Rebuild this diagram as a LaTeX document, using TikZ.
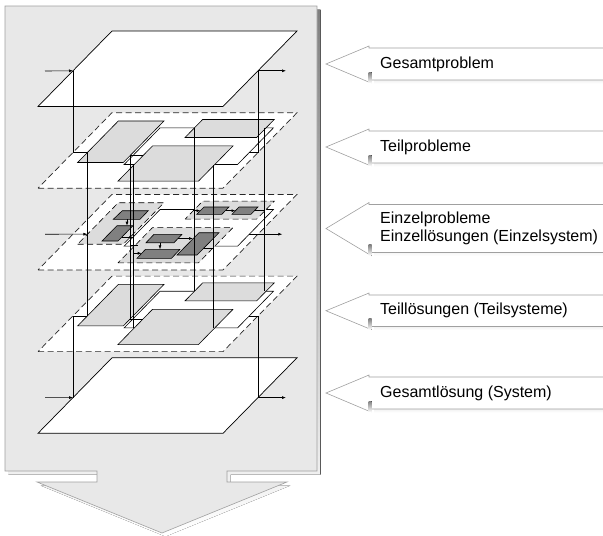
\documentclass[tikz,border=0pt]{standalone}
\usepackage{fontspec}
\setmainfont{Liberation Sans}
\usetikzlibrary{arrows.meta}
\definecolor{panel}{HTML}{E8E8E8}
\definecolor{shade}{HTML}{808080}
\definecolor{rim}{HTML}{A0A0A0}
\definecolor{subfill}{HTML}{DCDCDC}
\definecolor{elemfill}{HTML}{808080}

% parallelogram in level coordinates (u along width, v in depth)
\newcommand{\pgram}[4]{(#1,#2) -- (#3,#2) -- (#3,#4) -- (#1,#4) -- cycle}
% outline of the big downward arrow
\newcommand{\bigarrow}{(5,6) -- (317,6) -- (317,471) -- (227,471) -- (227,482) -- (287,482) -- (162,533) -- (37,482) -- (97,482) -- (97,471) -- (5,471) -- cycle}
% left-pointing tag arrow, body from #1 to #2 (top, bottom)
\newcommand{\tagshape}[2]{(326,{(#1+#2)/2}) -- (369,{#1-2}) -- (369,#1) -- (615,#1) -- (615,#2) -- (371,#2) -- (371,{#2+3}) -- cycle}

\tikzset{
  lvl/.style={shift={(38,#1)}, x={(185pt,0pt)}, y={(74pt,75.5pt)}},
  plane/.style={draw=black, fill=white, line width=0.7pt},
  dplane/.style={draw=black!85, fill=white, line width=0.7pt, dash pattern=on 6pt off 3.5pt},
  subpl/.style={draw=black, fill=subfill, line width=0.6pt},
  dsubpl/.style={draw=black, fill=subfill, line width=0.6pt, dash pattern=on 6pt off 3.5pt},
  framepl/.style={draw=black, fill=white, line width=0.6pt},
  elem/.style={draw=black, fill=elemfill, line width=0.6pt},
  wire/.style={draw=black, line width=0.6pt},
  flow/.style={wire, -{Latex[length=4pt,width=3pt]}},
  tagbox/.style={draw=rim, fill=white, line width=0.6pt},
  captxt/.style={font=\fontsize{16}{18}\selectfont, anchor=west, align=left, inner sep=0pt},
}

% a level of partial problems / partial solutions
\newcommand{\partlevel}[2]{%
  \begin{scope}[lvl=#1]
    \draw[dplane] \pgram{0}{0}{1}{1};
    \draw[framepl] \pgram{0.34}{0.314}{0.953}{0.8};
    \draw[subpl] \pgram{0.078}{0.34}{0.325}{0.89};
    \draw[subpl] \pgram{0.526}{0.672}{0.913}{0.91};
    \draw[subpl] \pgram{0.395}{0.093}{0.83}{0.56};
    \coordinate (#2in) at (0.078,0.473);
    \coordinate (#2out) at (0.953,0.473);
    \coordinate (#2p) at (0.524,0.8);
    \coordinate (#2q) at (0.903,0.8);
    \coordinate (#2r) at (0.825,0.307);
    \coordinate (#2s) at (0.325,0.43);
    \coordinate (#2sc) at (0.395,0.43);
    \coordinate (#2t) at (0.389,0.317);
  \end{scope}}

\begin{document}
\begin{tikzpicture}[x=1pt,y=-1pt]
\useasboundingbox (0,0) rectangle (603,536);
\clip (0,0) rectangle (603,536);

% big process arrow
\fill[shade, shift={(3.5,3.5)}] \bigarrow;
\draw[draw=rim, fill=panel, line width=0.6pt] \bigarrow;

% tag arrows with captions
\foreach \t/\b in {48/80, 131/163, 204.5/252.5, 295/326.5, 377/409}{
  \fill[shade] (374,\t+3) rectangle (618,\b+3.5);
  \draw[tagbox] \tagshape{\t}{\b};
  \fill[shade] (368.5,\b-8) rectangle (371.5,\b+3);
}
\node[captxt] (c1) at (380,64) {Gesamtproblem};
\node[captxt] (c2) at (380,147) {Teilprobleme};
\node[captxt] (c3) at (380,228.5) {Einzelprobleme\\Einzellösungen (Einzelsystem)};
\node[captxt] (c4) at (380,310.7) {Teillösungen (Teilsysteme)};
\node[captxt] (c5) at (380,393) {Gesamtlösung (System)};

% level 1: overall problem
\begin{scope}[lvl=106.5]
  \draw[plane] \pgram{0}{0}{1}{1};
  \coordinate (g1in) at (0,0.473);
  \coordinate (g1out) at (1,0.473);
\end{scope}

% level 2 and 4
\partlevel{188.2}{t2}
\partlevel{351.6}{t4}

% level 3: single problems / single solutions
\begin{scope}[lvl=269.9]
  \draw[dplane] \pgram{0}{0}{1}{1};
  \draw[framepl] \pgram{0.34}{0.314}{0.953}{0.8};
  \draw[dsubpl] \pgram{0.078}{0.34}{0.325}{0.89};
  \draw[dsubpl] \pgram{0.526}{0.672}{0.913}{0.91};
  \draw[dsubpl] \pgram{0.395}{0.093}{0.83}{0.56};
  \coordinate (e3in) at (0.078,0.473);
  \coordinate (e3out) at (0.953,0.473);
\end{scope}
% elements
\draw[elem] (122.3,210.7) -- (148.3,210.7) -- (140,219.3) -- (113.3,219.3) -- cycle;
\draw[elem] (117,225.7) -- (133,225.7) -- (118,241) -- (102,241) -- cycle;
\draw[elem] (204,207) -- (229,207) -- (221.8,214.3) -- (196.8,214.3) -- cycle;
\draw[elem] (239,207) -- (258,207) -- (251,214.3) -- (232,214.3) -- cycle;
\draw[elem] (154,234.3) -- (182,234.3) -- (174,242.7) -- (146,242.7) -- cycle;
\draw[elem] (145.5,249.3) -- (180,249.3) -- (171.5,258.3) -- (137,258.3) -- cycle;
\draw[elem] (199,232.7) -- (219,232.7) -- (197,255) -- (177,255) -- cycle;

% level 5: overall solution
\begin{scope}[lvl=433.3]
  \draw[plane] \pgram{0}{0}{1}{1};
  \coordinate (g5in) at (0,0.473);
  \coordinate (g5out) at (1,0.473);
\end{scope}

% inputs and outputs
\coordinate (s1) at (45,71);
\coordinate (s3) at (45,234.2);
\coordinate (s5) at (45,397.6);
\draw[flow] (s1) -- (g1in);
\draw[flow] (g1out) -- ++(28,0);
\draw[flow] (s3) -- (e3in);
\draw[flow] (e3out) -- ++(33,0);
\draw[flow] (s5) -- (g5in);
\draw[flow] (g5out) -- ++(28,0);

% links between the levels
\draw[wire] (g1in) |- (t2in);
\draw[wire] (g1out) |- (t2out);
\draw[wire] (g5in) |- (t4in);
\draw[wire] (g5out) |- (t4out);
\foreach \k in {in,p,q,r,s,t}{
  \draw[wire] (t2\k) -- (t4\k);
}
\draw[wire] (t2s) -- (t2sc);
\draw[wire] (t4s) -- (t4sc);

% links inside level 3
\draw[flow] (193.3,210.7) -- (200.5,210.7);
\draw[flow] (225.5,210.7) -- (235.5,210.7);
\draw[wire] (254.5,210.7) -- (264.3,210.7);
\draw[flow] (127,219.3) -- (127,225.7);
\draw[flow] (121.6,237.3) -- (133.3,237.3);
\draw[flow] (160,242.7) -- (160,249.3);
\draw[flow] (178,238.5) -- (193,238.5);
\draw[wire] (203.7,248) -- (213.3,248);
\draw[wire] (130,245) -- (138,245);
\draw[flow] (133.3,253.3) -- (141.7,253.3);
\end{tikzpicture}
\end{document}
